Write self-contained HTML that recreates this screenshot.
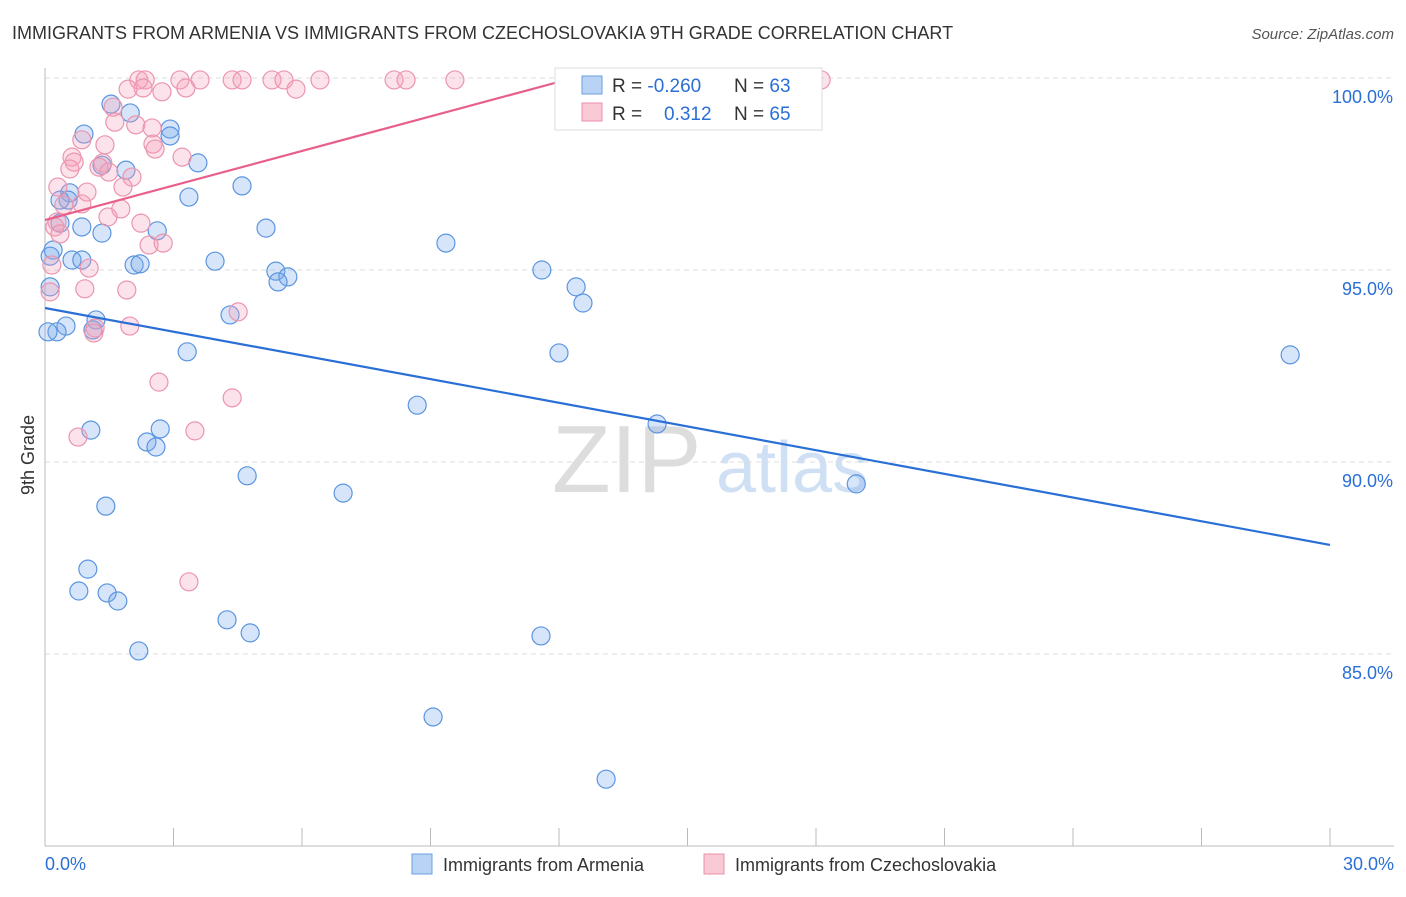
<!DOCTYPE html>
<html><head><meta charset="utf-8"><style>
body{margin:0;background:#fff;font-family:"Liberation Sans",sans-serif}
svg text{font-family:"Liberation Sans",sans-serif}
</style></head><body>
<svg id="chart" width="1406" height="892">
<text x="12" y="39" font-size="18" fill="#333">IMMIGRANTS FROM ARMENIA VS IMMIGRANTS FROM CZECHOSLOVAKIA 9TH GRADE CORRELATION CHART</text>
<text x="1394" y="39" font-size="15" fill="#555" text-anchor="end" font-style="italic">Source: ZipAtlas.com</text>
<g>
<text x="552" y="492" font-size="96" fill="#ddd" font-family="Liberation Serif,serif">ZIP</text>
<text x="716" y="492" font-size="72" fill="#cfe0f5">atlas</text>
</g>
<g id="grid"></g>
<g id="axes"></g>
<g id="marks"></g>
<text transform="translate(34,455) rotate(-90)" font-size="18" fill="#333" text-anchor="middle">9th Grade</text>
<g>
<rect x="555" y="68" width="267" height="62" fill="#fff" stroke="#ddd"/>
<rect x="582" y="76" width="20" height="18" fill="#b8d3f5" stroke="#6a9fe0"/>
<rect x="582" y="103" width="20" height="18" fill="#f9c9d6" stroke="#ec8fab"/>
<text x="612" y="92" font-size="19" fill="#333">R = <tspan fill="#2a6fd6">-0.260</tspan></text>
<text x="734" y="92" font-size="19" fill="#333">N = <tspan fill="#2a6fd6">63</tspan></text>
<text x="612" y="120" font-size="19" fill="#333">R = <tspan x="664" fill="#2a6fd6">0.312</tspan></text>
<text x="734" y="120" font-size="19" fill="#333">N = <tspan fill="#2a6fd6">65</tspan></text>
</g>
<g>
<rect x="412" y="854" width="20" height="20" fill="#b8d3f5" stroke="#6a9fe0"/>
<text x="443" y="871" font-size="18" fill="#333">Immigrants from Armenia</text>
<rect x="704" y="854" width="20" height="20" fill="#f9c9d6" stroke="#ec8fab"/>
<text x="735" y="871" font-size="18" fill="#333">Immigrants from Czechoslovakia</text>
</g>
</svg>
<script>
const blueX=[1.54,1.99,0.91,2.92,2.92,3.57,1.89,1.33,0.58,0.54,3.36,4.60,0.35,0.86,1.33,2.62,5.16,9.36,0.19,0.12,0.63,0.86,2.08,2.22,3.97,5.39,5.67,5.44,11.60,12.40,12.56,0.12,1.19,0.49,0.28,0.07,1.12,4.32,3.32,12.00,29.07,8.69,14.29,1.07,2.69,2.38,2.59,4.72,6.96,18.94,1.42,1.00,0.79,1.45,1.70,4.25,4.79,11.58,2.19,9.06,13.10,0.35];
const blueY=[99.32,99.09,98.54,98.67,98.49,97.79,97.60,97.73,97.01,96.82,96.90,97.19,96.22,96.12,95.96,96.02,96.09,95.70,95.52,95.36,95.26,95.26,95.13,95.16,95.23,94.97,94.82,94.69,95.00,94.56,94.14,94.56,93.70,93.54,93.39,93.39,93.44,93.83,92.87,92.84,92.79,91.48,90.99,90.83,90.86,90.52,90.39,89.64,89.19,89.43,88.85,87.21,86.64,86.59,86.38,85.89,85.55,85.47,85.08,83.36,81.74,96.82];
const pinkX=[2.19,2.34,3.15,3.62,4.37,4.60,5.30,5.58,6.42,8.15,8.43,9.57,18.12,2.29,1.94,2.73,5.86,3.29,1.59,1.63,2.12,2.50,2.52,2.57,0.86,1.40,0.63,0.68,1.35,3.20,0.58,1.26,1.49,2.03,0.30,1.82,0.98,0.86,0.44,1.77,1.47,2.24,0.28,0.23,0.35,2.43,2.76,0.16,1.03,0.12,0.93,1.91,4.51,1.17,1.14,1.98,2.66,4.37,0.77,3.50,3.36];
const pinkY=[99.95,99.95,99.95,99.95,99.95,99.95,99.95,99.95,99.95,99.95,99.95,99.95,99.95,99.74,99.71,99.64,99.71,99.74,99.24,98.85,98.78,98.70,98.28,98.15,98.39,98.26,97.94,97.81,97.79,97.94,97.63,97.68,97.55,97.42,97.16,97.16,97.03,96.72,96.69,96.59,96.38,96.22,96.25,96.12,95.94,95.65,95.70,95.13,95.05,94.43,94.51,94.48,93.91,93.49,93.36,93.54,92.08,91.67,90.65,90.81,86.88];
const blueTrend=[94.01,87.84];
const pinkTrend=[96.30,0.30];
const yTicks=[100,95,90,85];
const yTickLabels=["100.0%","95.0%","90.0%","85.0%"];
const xTickLabels=["0.0%","30.0%"];
const NS="http://www.w3.org/2000/svg";
const sx=v=>45+v/30*1285, sy=v=>78+(100-v)*38.4;
function mk(tag,attrs,parent){const e=document.createElementNS(NS,tag);for(const k in attrs)e.setAttribute(k,attrs[k]);document.getElementById(parent).appendChild(e);return e;}
yTicks.forEach((t,i)=>{
 const l=mk('line',{x1:45,x2:1394,y1:sy(t),y2:sy(t),stroke:'#ddd','stroke-dasharray':'5,4'},'grid');
 
 
 const tx=mk('text',{x:1393,y:sy(t)+25,'font-size':18,fill:'#2a6fd6','text-anchor':'end'},'axes');
 tx.textContent=yTickLabels[i];
 
 
});
const ya=mk('line',{x1:45,x2:45,y1:68,y2:846,stroke:'#bbb'},'axes');


const xa=mk('line',{x1:45,x2:1394,y1:846,y2:846,stroke:'#bbb'},'axes');


for(let i=0;i<=10;i++){
 const t=mk('line',{x1:sx(i*3),x2:sx(i*3),y1:828,y2:846,stroke:'#bbb'},'axes');
 
 
}
[[0,'start',45],[30,'end',1394]].forEach((d,i)=>{
 const tx=mk('text',{x:d[2],y:870,'font-size':18,fill:'#2a6fd6','text-anchor':d[1]},'axes');
 tx.textContent=xTickLabels[i];
 
 
});
blueX.forEach((x,i)=>{
 const c=mk('circle',{cx:sx(x),cy:sy(blueY[i]),r:9,fill:'rgba(120,170,235,0.3)',stroke:'#5b95e0','stroke-width':1.2},'marks');
 
 
});
pinkX.forEach((x,i)=>{
 const c=mk('circle',{cx:sx(x),cy:sy(pinkY[i]),r:9,fill:'rgba(245,160,185,0.3)',stroke:'#eb95ae','stroke-width':1.2},'marks');
 
 
});
const bl=mk('line',{x1:sx(0),y1:sy(blueTrend[0]),x2:sx(30),y2:sy(blueTrend[1]),stroke:'#2a6fd6','stroke-width':2.2},'marks');


const xEnd=(100-pinkTrend[0])/pinkTrend[1];
const pl=mk('line',{x1:sx(0),y1:sy(pinkTrend[0]),x2:sx(xEnd),y2:sy(100),stroke:'#e8608a','stroke-width':2.2},'marks');


</script>
</body></html>
